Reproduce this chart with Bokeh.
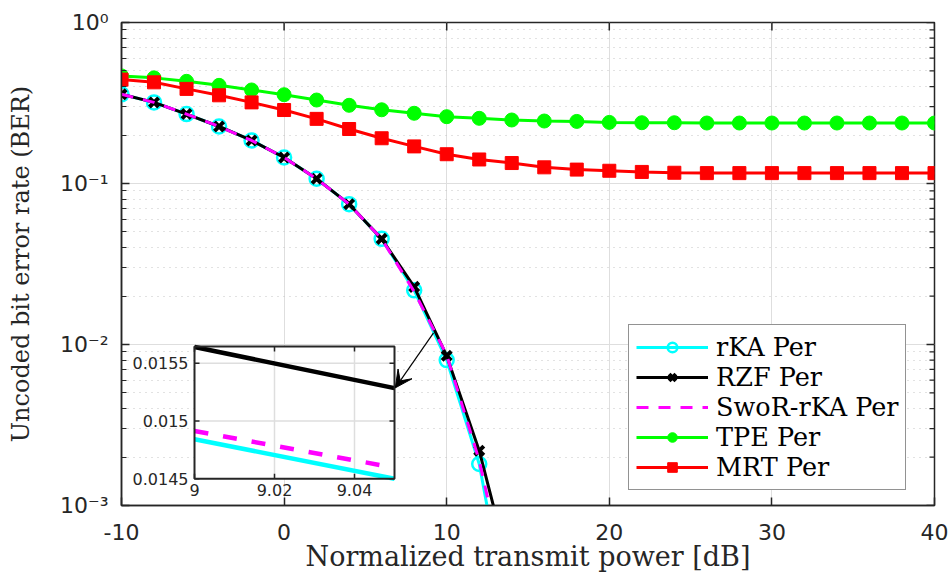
import math
from bokeh.plotting import figure
from bokeh.models import (Range1d, LinearScale, FixedTicker, Legend,
                          LegendItem, Arrow, VeeHead, CustomJSTickFormatter)
from bokeh.core.properties import value
from bokeh.embed import file_html
from bokeh.resources import INLINE

# ---------------- data ----------------
power_db = [-10, -8, -6, -4, -2, 0, 2, 4, 6, 8, 10, 12, 14, 16, 18, 20,
            22, 24, 26, 28, 30, 32, 34, 36, 38, 40]
tpe_ber = [0.466, 0.453, 0.431, 0.407, 0.381, 0.356, 0.330, 0.306, 0.287, 0.273,
           0.260, 0.254, 0.248, 0.2444, 0.243, 0.2396, 0.2385, 0.2385, 0.2375, 0.2375,
           0.2375, 0.2375, 0.2375, 0.2375, 0.2375, 0.2375]
mrt_ber = [0.442, 0.425, 0.387, 0.353, 0.319, 0.286, 0.252, 0.218, 0.191, 0.170,
           0.152, 0.141, 0.134, 0.126, 0.122, 0.120, 0.118, 0.1166, 0.116, 0.116,
           0.116, 0.116, 0.116, 0.116, 0.116, 0.116]

fast_db = [-10, -8, -6, -4, -2, 0, 2, 4, 6, 8, 10, 12, 14]
rka_ber = [0.358, 0.319, 0.270, 0.226, 0.185, 0.145, 0.107, 0.0744, 0.0453,
           0.0217, 0.0080, 0.00181, 0.00015]
rzf_ber = [0.358, 0.319, 0.270, 0.226, 0.185, 0.145, 0.107, 0.0744, 0.0453,
           0.0228, 0.0085, 0.00219, 0.00036]
swor_ber = [0.358, 0.319, 0.270, 0.226, 0.185, 0.145, 0.107, 0.0744, 0.0453,
            0.0213, 0.0086, 0.0019, 0.00024]

x_ticks = [-10, 0, 10, 20, 30, 40]
y_ticks = [0.001, 0.01, 0.1, 1.0]
y_minor_ticks = [m * 10.0 ** e for e in (-3, -2, -1) for m in range(2, 10)]

# zoomed inset
inset_db = [9.0, 9.05]
inset_rka = [0.014842, 0.01450]
inset_rzf = [0.015640, 0.015284]
inset_swor = [0.014913, 0.014596]
inset_xlim = [9.0, 9.05]
inset_ylim = [0.0145, 0.015644]
inset_xticks = [9.0, 9.02, 9.04]
inset_xtick_labels = ["9", "9.02", "9.04"]
inset_yticks = [0.0145, 0.015, 0.0155]
inset_ytick_labels = ["0.0145", "0.015", "0.0155"]

arrow_db = [9.19, 6.84]
arrow_ber = [0.0118, 0.00538]

# ---------------- styling ----------------
AX = "#262626"
GRID = "#dedede"
MINOR = "#c4c4c4"
SANS = "DejaVu Sans"
SERIF = "DejaVu Serif"

FRAME_W, FRAME_H = 813, 483
# inset box as fractions of the frame: left, right, bottom, top
inset_frac = (0.0898, 0.3358, 0.0553, 0.3292)

p = figure(frame_width=FRAME_W, frame_height=FRAME_H,
           x_range=Range1d(-10, 40), y_range=Range1d(1e-3, 1.0),
           y_axis_type="log", output_backend="svg", toolbar_location=None,
           min_border_left=121, min_border_right=16, min_border_top=22,
           min_border_bottom=74)
p.background_fill_color = "white"
p.border_fill_color = "white"
p.outline_line_color = AX
p.outline_line_width = 1.5

xa = p.below[0]
ya = p.left[0]
xa.ticker = FixedTicker(ticks=x_ticks)
ya.ticker = FixedTicker(ticks=y_ticks, minor_ticks=y_minor_ticks)
ya.formatter = CustomJSTickFormatter(code="""
const e = Math.round(Math.log10(tick));
const sup = {"-": "\u207b", "0": "\u2070", "1": "\u00b9", "2": "\u00b2", "3": "\u00b3"};
return "10" + String(e).split("").map(c => sup[c]).join("");
""")
xa.formatter = CustomJSTickFormatter(code="return String(tick);")
for ax in (xa, ya):
    ax.axis_line_color = AX
    ax.axis_line_width = 1.5
    ax.major_tick_line_color = AX
    ax.major_tick_line_width = 1.5
    ax.major_tick_in = 8
    ax.major_tick_out = 0
    ax.minor_tick_line_color = AX
    ax.minor_tick_line_width = 1.2
    ax.minor_tick_in = 5
    ax.minor_tick_out = 0
    ax.major_label_text_font = SANS
    ax.major_label_text_font_size = "22px"
    ax.major_label_text_color = AX
    ax.axis_label_text_font = SERIF
    ax.axis_label_text_font_style = "normal"
    ax.axis_label_text_color = AX
xa.minor_tick_line_color = None
xa.major_label_standoff = 18
xa.axis_label = "Normalized transmit power [dB]"
xa.axis_label_text_font_size = "27px"
xa.axis_label_standoff = -2
ya.major_label_standoff = 13
ya.axis_label = "Uncoded bit error rate (BER)"
ya.axis_label_text_font_size = "24px"
ya.axis_label_standoff = 22

p.xgrid.grid_line_color = GRID
p.ygrid.grid_line_color = GRID
p.ygrid.minor_grid_line_color = MINOR
p.ygrid.minor_grid_line_dash = "1 5"
p.ygrid.minor_grid_line_width = 1.2

# box ticks on the top and right edges (inward)
n_xt = len(x_ticks)
p.ray(x=x_ticks, y=[y_ticks[-1]] * n_xt, length=8, length_units="screen",
      angle=-math.pi / 2, line_color=AX, line_width=1.5)
p.ray(x=[x_ticks[-1]] * len(y_ticks), y=y_ticks, length=8, length_units="screen",
      angle=math.pi, line_color=AX, line_width=1.5)
p.ray(x=[x_ticks[-1]] * len(y_minor_ticks), y=y_minor_ticks, length=5,
      length_units="screen", angle=math.pi, line_color=AX, line_width=1.2)

# ---------------- main curves ----------------
CY, BK, MG, GR, RD = "#00ffff", "#000000", "#ff00ff", "#00ff00", "#ff0000"
l_rka = p.line(fast_db, rka_ber, line_color=CY, line_width=3)
m_rka = p.scatter(fast_db, rka_ber, marker="circle", size=14, fill_color=None,
                  line_color=CY, line_width=2.5)
l_rzf = p.line(fast_db, rzf_ber, line_color=BK, line_width=3)
m_rzf = p.scatter(fast_db, rzf_ber, marker="x", size=13, line_color=BK, line_width=4)
l_swor = p.line(fast_db, swor_ber, line_color=MG, line_width=3, line_dash="12 10")
l_tpe = p.line(power_db, tpe_ber, line_color=GR, line_width=3)
m_tpe = p.scatter(power_db, tpe_ber, marker="circle", size=14, fill_color=GR, line_color=GR)
l_mrt = p.line(power_db, mrt_ber, line_color=RD, line_width=3)
m_mrt = p.scatter(power_db, mrt_ber, marker="square", size=13, fill_color=RD, line_color=RD)

# ---------------- inset ----------------
def frame_range(lo, hi, f0, f1):
    span = (hi - lo) / (f1 - f0)
    start = lo - f0 * span
    return Range1d(start, start + span)

p.extra_x_ranges = {"ix": frame_range(inset_xlim[0], inset_xlim[1], inset_frac[0], inset_frac[1])}
p.extra_y_ranges = {"iy": frame_range(inset_ylim[0], inset_ylim[1], inset_frac[2], inset_frac[3])}
p.extra_x_scales = {"ix": LinearScale()}
p.extra_y_scales = {"iy": LinearScale()}
IR = dict(x_range_name="ix", y_range_name="iy")

p.quad(left=[inset_xlim[0]], right=[inset_xlim[1]], bottom=[inset_ylim[0]],
       top=[inset_ylim[1]], fill_color="white", line_color=None, **IR)
p.segment(x0=inset_xticks[1:], y0=[inset_ylim[0]] * 2, x1=inset_xticks[1:],
          y1=[inset_ylim[1]] * 2, line_color=GRID, line_width=1.5, **IR)
p.segment(x0=[inset_xlim[0]] * 2, y0=inset_yticks[1:], x1=[inset_xlim[1]] * 2,
          y1=inset_yticks[1:], line_color=GRID, line_width=1.5, **IR)
p.line(inset_db, inset_rka, line_color=CY, line_width=4.5, **IR)
p.line(inset_db, inset_rzf, line_color=BK, line_width=4.5, **IR)
p.line(inset_db, inset_swor, line_color=MG, line_width=4.5, line_dash="14 15", **IR)
p.quad(left=[inset_xlim[0]], right=[inset_xlim[1]], bottom=[inset_ylim[0]],
       top=[inset_ylim[1]], fill_color=None, line_color=AX, line_width=2, **IR)
n_x = len(inset_xticks)
n_y = len(inset_yticks)
p.ray(x=inset_xticks, y=[inset_ylim[0]] * n_x, length=5, length_units="screen",
      angle=math.pi / 2, line_color=AX, line_width=1.5, **IR)
p.ray(x=inset_xticks, y=[inset_ylim[1]] * n_x, length=5, length_units="screen",
      angle=-math.pi / 2, line_color=AX, line_width=1.5, **IR)
p.ray(x=[inset_xlim[0]] * n_y, y=inset_yticks, length=5, length_units="screen",
      angle=0, line_color=AX, line_width=1.5, **IR)
p.ray(x=[inset_xlim[1]] * n_y, y=inset_yticks, length=5, length_units="screen",
      angle=math.pi, line_color=AX, line_width=1.5, **IR)
p.text(x=[inset_xlim[0]] * n_y, y=inset_yticks, text=inset_ytick_labels,
       text_align="right", text_baseline="middle", x_offset=-6,
       text_font=value(SANS), text_font_size="16px", text_color=AX, **IR)
p.text(x=inset_xticks, y=[inset_ylim[0]] * n_x, text=inset_xtick_labels,
       text_align="center", text_baseline="top", y_offset=5,
       text_font=value(SANS), text_font_size="16px", text_color=AX, **IR)

p.add_layout(Arrow(end=VeeHead(size=17, fill_color=BK, line_color=BK, line_width=1),
                   x_start=arrow_db[0], y_start=arrow_ber[0],
                   x_end=arrow_db[1], y_end=arrow_ber[1],
                   line_color=BK, line_width=1.2))

# ---------------- legend ----------------
legend = Legend(items=[
    LegendItem(label="rKA Per", renderers=[l_rka, m_rka]),
    LegendItem(label="RZF Per", renderers=[l_rzf, m_rzf]),
    LegendItem(label="SwoR-rKA Per", renderers=[l_swor]),
    LegendItem(label="TPE Per", renderers=[l_tpe, m_tpe]),
    LegendItem(label="MRT Per", renderers=[l_mrt, m_mrt]),
], location=(507, 15))
legend.label_text_font = SERIF
legend.label_text_font_size = "25.5px"
legend.label_text_color = "#000000"
legend.label_height = 24
legend.glyph_height = 24
legend.glyph_width = 72
legend.label_standoff = 8
legend.spacing = 0
legend.padding = 7
legend.margin = 0
legend.border_line_color = AX
legend.border_line_width = 1.2
legend.background_fill_color = "white"
legend.background_fill_alpha = 1.0
p.add_layout(legend)

open("out.html", "w").write(file_html(p, INLINE))
